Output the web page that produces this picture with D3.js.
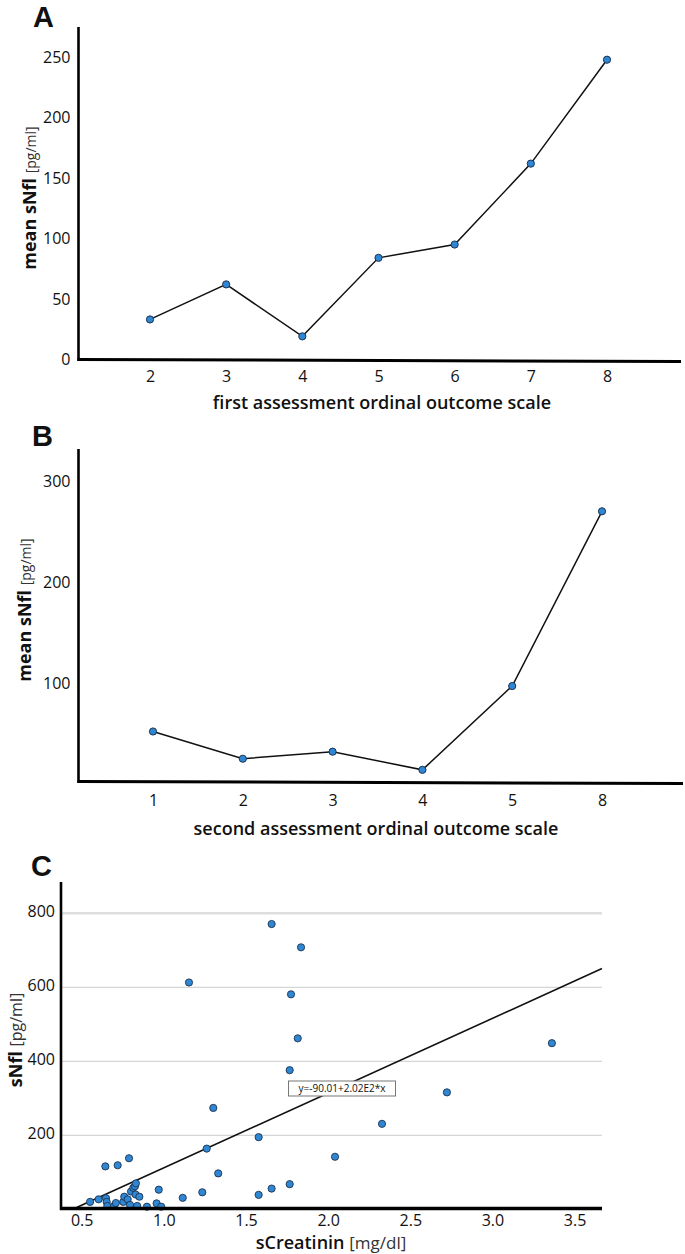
<!DOCTYPE html>
<html><head><meta charset="utf-8">
<script src="https://cdn.jsdelivr.net/npm/d3@7"></script>
<style>
body{margin:0;background:#fff}
text{font-family:"Open Sans","Noto Sans",sans-serif;fill:#111}
</style>
</head><body>
<svg id="c" width="685" height="1254"></svg>
<script>
// ---- Panel A data ----
const catsA = ["2","3","4","5","6","7","8"];
const valsA = [33, 62, 19, 84, 95, 162, 248];
const ticksA = [0, 50, 100, 150, 200, 250];
// ---- Panel B data ----
const catsB = ["1","2","3","4","5","8"];
const valsB = [52, 25, 32, 14, 97, 270];
const ticksB = [100, 200, 300];
// ---- Panel C data ----
const creat = [1.656,1.835,1.153,1.774,1.815,1.766,1.301,1.577,1.261,2.042,0.788,0.644,0.719,1.331,1.766,1.656,1.577,1.234,1.115,0.969,3.362,2.723,2.328,
  0.551,0.603,0.648,0.652,0.656,0.697,0.708,0.753,0.759,0.780,0.794,0.800,0.814,0.824,0.830,0.828,0.851,0.838,0.897,0.956,0.984];
const snfl  = [771,708,613,581,462,376,274,195,164,142,138,116,119,97,68,56,39,46,31,53,449,316,231,
  20,27,30,20,9,9,17,20,34,27,12,48,58,62,70,40,34,9,7,16,7];
const ticksCy = [200, 400, 600, 800];
const ticksCx = [0.5, 1.0, 1.5, 2.0, 2.5, 3.0, 3.5];
const fitIntercept = -90.01, fitSlope = 202;
const fitLabel = "y=-90.01+2.02E2*x";

const svg = d3.select("#c");
svg.append("rect").attr("width",685).attr("height",1254).attr("fill","#fff");

const dotFill = "#2f86d3", dotStroke = "#1c3350";
const letterFont = '"Liberation Sans",Arial,sans-serif';

function styleAxis(g, size){
  g.select(".domain").remove();
  g.selectAll("text").style("font-size", size+"px").attr("fill","#111");
}

function lineChart(opt){
  const g = svg.append("g");
  const x = d3.scalePoint().domain(opt.cats).range(opt.xr);
  const y = d3.scaleLinear().domain(opt.yd).range(opt.yr);
  g.append("line").attr("x1",opt.axX).attr("x2",opt.axX).attr("y1",opt.axTop).attr("y2",opt.axY+1.5)
    .attr("stroke","#000").attr("stroke-width",2.6);
  g.append("line").attr("x1",opt.axX-1).attr("x2",opt.axRight).attr("y1",opt.axY).attr("y2",opt.axY+2)
    .attr("stroke","#000").attr("stroke-width",3);
  g.append("g").attr("transform",`translate(${opt.axX},0)`)
    .call(d3.axisLeft(y).tickValues(opt.ticks).tickSize(0).tickPadding(8).tickFormat(d3.format("d")))
    .call(a=>styleAxis(a,16));
  g.append("g").attr("transform",`translate(0,${opt.axY})`)
    .call(d3.axisBottom(x).tickSize(0).tickPadding(opt.xpad))
    .call(a=>styleAxis(a,16));
  const data = opt.cats.map((c,i)=>({c, v:opt.vals[i]}));
  g.append("path").datum(data)
    .attr("d", d3.line().x(d=>x(d.c)).y(d=>y(d.v)))
    .attr("fill","none").attr("stroke","#111").attr("stroke-width",1.5);
  g.selectAll("circle").data(data).join("circle")
    .attr("cx",d=>x(d.c)).attr("cy",d=>y(d.v)).attr("r",3.6)
    .attr("fill",dotFill).attr("stroke",dotStroke).attr("stroke-width",1);
  g.append("text").attr("x",opt.letterX).attr("y",opt.letterY).text(opt.letter)
    .style("font-family",letterFont).style("font-size","29px").style("font-weight","700");
  g.append("text").attr("x",opt.titleX).attr("y",opt.titleY).attr("text-anchor","middle")
    .style("font-size","18px").style("font-weight","600").text(opt.title);
  const yt = g.append("text").attr("transform",`translate(${opt.ylx},${opt.yly}) rotate(-90)`)
    .attr("text-anchor","middle");
  yt.append("tspan").style("font-size","18px").style("font-weight","700").text("mean sNfl ");
  yt.append("tspan").style("font-size","14px").style("font-weight","400").attr("fill","#333").text("[pg/ml]");
}

lineChart({cats:catsA, vals:valsA, ticks:ticksA, xr:[150,607], yd:[0,250], yr:[359.3,57.3],
  axX:78.5, axTop:27, axY:359.5, axRight:681, xpad:11,
  letter:"A", letterX:33, letterY:27, title:"first assessment ordinal outcome scale", titleX:382, titleY:409,
  ylx:36, yly:198});

lineChart({cats:catsB, vals:valsB, ticks:ticksB, xr:[153,602], yd:[0,300], yr:[784,481],
  axX:78.5, axTop:449, axY:781.5, axRight:683, xpad:13,
  letter:"B", letterX:32, letterY:446, title:"second assessment ordinal outcome scale", titleX:376, titleY:835,
  ylx:31, yly:610});

// ---- Panel C scatter ----
{
  const g = svg.append("g");
  const x = d3.scaleLinear().domain([0.374, 3.667]).range([61, 602]);
  const y = d3.scaleLinear().domain([0, 800]).range([1209.3, 913.3]);
  g.selectAll("line.grid").data(ticksCy).join("line").attr("class","grid")
    .attr("x1",61).attr("x2",602).attr("y1",d=>y(d)).attr("y2",d=>y(d))
    .attr("stroke",d=>d===800?"#dedede":"#d6d6d6").attr("stroke-width",d=>d===800?2.6:1.3);
  const x0 = -fitIntercept/fitSlope, x1 = x.domain()[1];
  g.append("line").attr("x1",x(x0)).attr("y1",y(0)).attr("x2",x(x1)).attr("y2",y(fitIntercept+fitSlope*x1))
    .attr("stroke","#111").attr("stroke-width",1.6);
  const pts = creat.map((c,i)=>({c, v:snfl[i]}));
  g.selectAll("circle").data(pts).join("circle")
    .attr("cx",d=>x(d.c)).attr("cy",d=>y(d.v)).attr("r",3.6)
    .attr("fill",dotFill).attr("stroke",dotStroke).attr("stroke-width",0.9);
  const bx = 288.5, by = 1081;
  g.append("rect").attr("x",bx).attr("y",by).attr("width",107).attr("height",15)
    .attr("fill","#fff").attr("stroke","#777").attr("stroke-width",1);
  g.append("text").attr("x",bx+53.5).attr("y",by+11).attr("text-anchor","middle")
    .style("font-size","10px").attr("fill","#333").text(fitLabel);
  g.append("line").attr("x1",61).attr("x2",61).attr("y1",882).attr("y2",1210)
    .attr("stroke","#000").attr("stroke-width",2.6);
  g.append("line").attr("x1",60).attr("x2",602).attr("y1",1208.5).attr("y2",1208.5)
    .attr("stroke","#000").attr("stroke-width",3.5);
  g.append("g").attr("transform","translate(61,0)")
    .call(d3.axisLeft(y).tickValues(ticksCy).tickSize(0).tickPadding(6).tickFormat(d3.format("d")))
    .call(a=>styleAxis(a,16));
  g.selectAll("g.tick text").attr("dy","0.2em");
  g.append("g").attr("transform","translate(0,1208.5)")
    .call(d3.axisBottom(x).tickValues(ticksCx).tickSize(0).tickPadding(6).tickFormat(d3.format(".1f")))
    .call(a=>styleAxis(a,16));
  g.append("text").attr("x",31).attr("y",876).text("C")
    .style("font-family",letterFont).style("font-size","29px").style("font-weight","700");
  const xt = g.append("text").attr("x",331).attr("y",1249).attr("text-anchor","middle");
  xt.append("tspan").style("font-size","18px").style("font-weight","600").text("sCreatinin ");
  xt.append("tspan").style("font-size","17px").style("font-weight","400").attr("fill","#333").text("[mg/dl]");
  const yt = g.append("text").attr("transform","translate(22,1040) rotate(-90)").attr("text-anchor","middle");
  yt.append("tspan").style("font-size","18px").style("font-weight","700").text("sNfl ");
  yt.append("tspan").style("font-size","16px").style("font-weight","400").attr("fill","#333").text("[pg/ml]");
}
</script>
</body></html>
